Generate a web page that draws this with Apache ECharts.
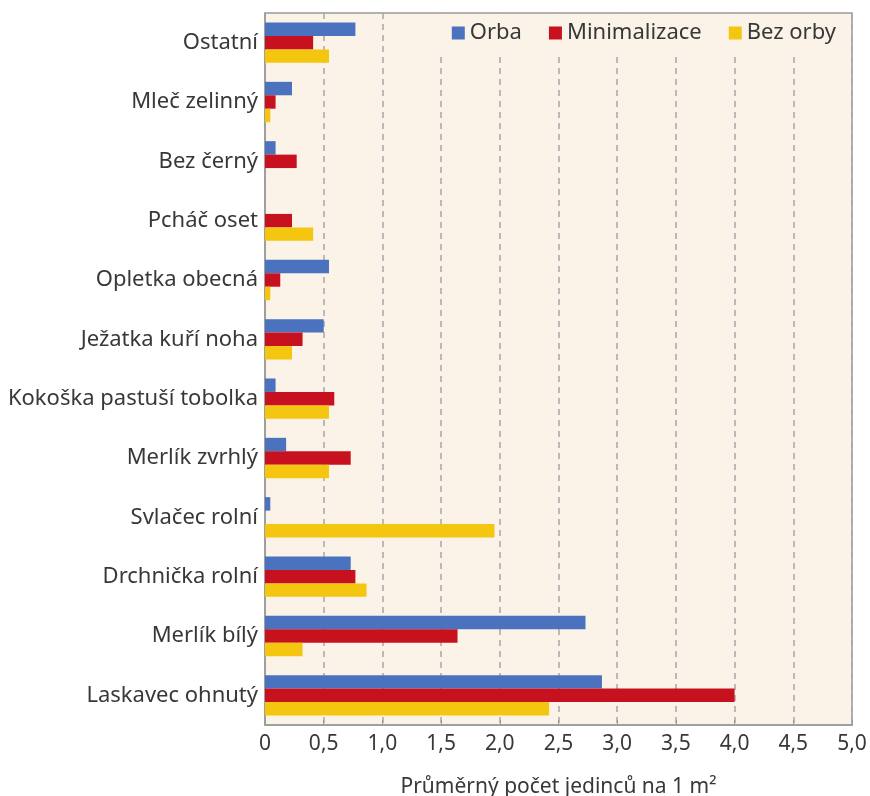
<!DOCTYPE html>
<html>
<head>
<meta charset="utf-8">
<script src="https://cdn.jsdelivr.net/npm/echarts@6/dist/echarts.min.js"></script>
<style>
html,body{margin:0;padding:0;background:#ffffff;}
#chart{width:870px;height:796px;}
</style>
</head>
<body>
<div id="chart"></div>
<script>
const categories = ['Ostatní','Mleč zelinný','Bez černý','Pcháč oset','Opletka obecná','Ježatka kuří noha','Kokoška pastuší tobolka','Merlík zvrhlý','Svlačec rolní','Drchnička rolní','Merlík bílý','Laskavec ohnutý'];
const orba = [0.77, 0.23, 0.09, 0, 0.545, 0.50, 0.09, 0.18, 0.045, 0.73, 2.73, 2.87];
const minimalizace = [0.41, 0.09, 0.27, 0.23, 0.13, 0.32, 0.59, 0.73, 0, 0.77, 1.64, 4.0];
const bezOrby = [0.545, 0.045, 0, 0.41, 0.045, 0.23, 0.545, 0.545, 1.955, 0.865, 0.32, 2.42];
const seriesNames = ['Orba','Minimalizace','Bez orby'];
const axisTitle = 'Průměrný počet jedinců na 1 m²';

const FONT = '"Noto Sans", sans-serif';
const colors = ['#4a72bf','#c8111e','#f5c60f'];
const chart = echarts.init(document.getElementById('chart'));
const mk = (name, data, i) => ({
  name, type:'bar', data, barGap:'0%', barCategoryGap:'32%',
  itemStyle:{color:colors[i]}, z:3
});
chart.setOption({
  animation:false,
  textStyle:{fontFamily:FONT},
  grid:{left:265,right:18,top:13,bottom:71,show:true,backgroundColor:'#fbf2e8',borderColor:'#9a9a9a',borderWidth:1.5,containLabel:false,outerBoundsMode:'none'},
  legend:{
    data:seriesNames, right:19, top:14, icon:'rect', itemWidth:13, itemHeight:13, itemGap:27,
    backgroundColor:'#fbf2e8', padding:[8,15,12,12], z:5,
    textStyle:{fontSize:22,color:'#383838',fontFamily:FONT}
  },
  xAxis:{
    type:'value', min:0, max:5, interval:0.5,
    name:axisTitle, nameLocation:'middle', nameGap:52,
    nameTextStyle:{fontSize:21,color:'#383838',fontFamily:FONT},
    axisLine:{show:true,lineStyle:{color:'#9a9a9a',width:1.5}},
    axisTick:{show:true,inside:true,length:5,lineStyle:{color:'#9a9a9a'}},
    axisLabel:{fontSize:21,color:'#383838',margin:9,formatter:v=> v===0?'0':v.toFixed(1).replace('.',',')},
    splitLine:{show:true,lineStyle:{color:'#a8a8a8',type:[6,5],width:1.5}}
  },
  yAxis:{
    type:'category', data:categories, inverse:true,
    axisLine:{show:true,lineStyle:{color:'#9a9a9a',width:1.5}},
    axisTick:{show:false},
    axisLabel:{fontSize:22,color:'#383838',margin:7,fontFamily:FONT}
  },
  series:[mk(seriesNames[0],orba,0),mk(seriesNames[1],minimalizace,1),mk(seriesNames[2],bezOrby,2)]
});
</script>
</body>
</html>
